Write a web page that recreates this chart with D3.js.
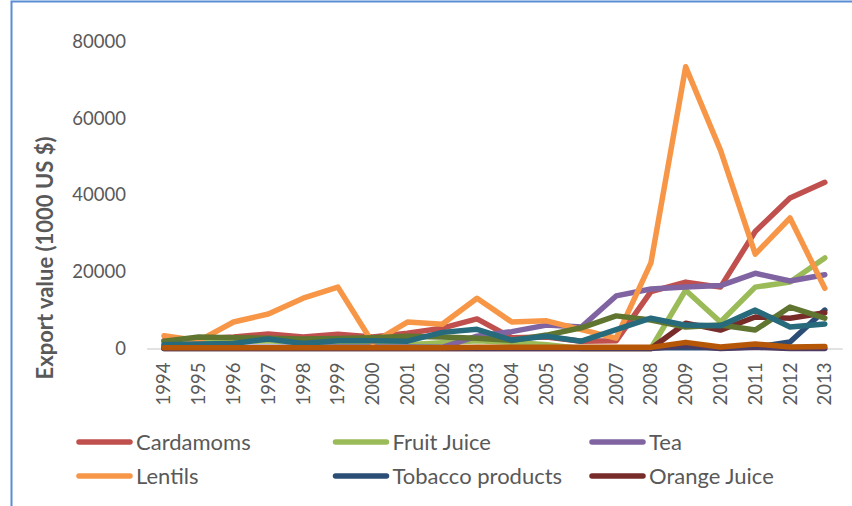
<!DOCTYPE html>
<html>
<head>
<meta charset="utf-8">
<script src="https://cdn.jsdelivr.net/npm/d3@7"></script>
<style>
  body { margin: 0; background: #fff; }
  svg { display: block; font-family: Lato, "Open Sans", sans-serif; }
</style>
</head>
<body>
<svg id="chart" width="852" height="506"></svg>
<script>
// years on the category axis
const years = [1994, 1995, 1996, 1997, 1998, 1999, 2000, 2001, 2002, 2003,
               2004, 2005, 2006, 2007, 2008, 2009, 2010, 2011, 2012, 2013];
const yTicks = [0, 20000, 40000, 60000, 80000];

// export values, 1000 US $
const cardamoms   = [2000, 2500, 3000, 3800, 3000, 3700, 3000, 4000, 5300, 7700, 2800, 3000, 1900, 2000, 14800, 17300, 16000, 30500, 39200, 43300];
const fruitJuice  = [1000, 2000, 1800, 2000, 1500, 1200, 1000, 1000, 1500, 2000, 1600, 1000, 0, 0, 0, 15200, 6900, 16000, 17300, 23600];
const tea         = [300, 300, 300, 300, 300, 400, 400, 400, 300, 3200, 4400, 6100, 5600, 13700, 15500, 16000, 16400, 19600, 17600, 19200];
const lentils     = [3300, 2000, 6900, 9000, 13100, 16000, 1500, 6900, 6300, 13100, 6900, 7200, 4900, 2700, 22300, 73400, 51700, 24600, 34000, 15700];
const tobacco     = [200, 200, 200, 200, 200, 200, 200, 200, 200, 200, 200, 200, 200, 200, 200, 200, 200, 300, 1700, 10000];
const orangeJuice = [0, 0, 0, 0, 0, 0, 0, 0, 0, 0, 0, 0, 0, 0, 0, 6600, 4800, 8200, 7900, 9300];
// series drawn in the plot whose legend entries are cut off
const seriesG     = [1900, 3000, 2800, 2700, 2500, 2600, 2800, 3200, 3000, 2700, 2100, 3500, 5400, 8500, 7400, 5600, 6100, 4800, 10800, 7900];
const seriesH     = [0, 0, 0, 0, 0, 0, 0, 0, 0, 0, 0, 0, 0, 0, 0, 800, 0, 300, 0, 0];
const seriesI     = [1000, 1200, 1300, 2500, 1300, 2000, 2000, 1900, 4200, 5000, 2200, 3200, 1900, 4900, 7900, 6100, 5900, 10000, 5600, 6400];
const seriesJ     = [200, 200, 200, 200, 200, 200, 200, 200, 200, 300, 300, 300, 300, 300, 300, 1600, 400, 1200, 400, 500];

const series = [
  { name: "Cardamoms", values: cardamoms, color: "#C0504D", legend: true },
  { name: "Fruit Juice", values: fruitJuice, color: "#9BBB59", legend: true },
  { name: "Tea", values: tea, color: "#8064A2", legend: true },
  { name: "Lentils", values: lentils, color: "#F79646", legend: true },
  { name: "Tobacco products", values: tobacco, color: "#2C4D75", legend: true },
  { name: "Orange Juice", values: orangeJuice, color: "#772C2A", legend: true },
  { name: "G", values: seriesG, color: "#5F7530", legend: false },
  { name: "H", values: seriesH, color: "#4D3B62", legend: false },
  { name: "I", values: seriesI, color: "#276A7C", legend: false },
  { name: "J", values: seriesJ, color: "#B65708", legend: false }
];

const svg = d3.select("#chart");
const textColor = "#595959";

// chart frame (only left and top edges are in view)
svg.append("path")
  .attr("d", "M11.5,506 V1.5 H852")
  .attr("fill", "none")
  .attr("stroke", "#5B8DD6")
  .attr("stroke-width", 2);

const x = d3.scaleBand().domain(years).range([146.6, 842.2]);
const y = d3.scaleLinear().domain([0, 80000]).range([348.5, 41.5]);

// y axis labels
svg.append("g")
  .attr("transform", "translate(126,0)")
  .call(d3.axisLeft(y).tickValues(yTicks).tickSize(0).tickPadding(0).tickFormat(d3.format("d")))
  .call(g => g.select(".domain").remove())
  .selectAll("text")
  .attr("fill", textColor)
  .style("font-family", "Lato")
  .style("font-size", "18.5px");

// x axis
const xAxis = svg.append("g")
  .attr("transform", "translate(0,348.5)")
  .call(d3.axisBottom(x).tickSize(0).tickPadding(0));
xAxis.select(".domain").attr("stroke", "#D9D9D9").attr("stroke-width", 1.5);
xAxis.selectAll("text")
  .attr("fill", textColor)
  .style("font-family", "Lato")
  .style("font-size", "18.5px")
  .attr("text-anchor", "end")
  .attr("transform", "rotate(-90)")
  .attr("x", -14)
  .attr("y", 0)
  .attr("dy", "0.35em");

// axis title
svg.append("text")
  .attr("transform", "translate(53,258) rotate(-90)")
  .attr("text-anchor", "middle")
  .attr("fill", textColor)
  .style("font-family", "Lato")
  .style("font-weight", "bold")
  .style("font-size", "22px")
  .text("Export value (1000 US $)");

// lines
const line = d3.line()
  .x((d, i) => x(years[i]) + x.bandwidth() / 2)
  .y(d => y(d));

svg.append("g")
  .selectAll("path")
  .data(series)
  .enter()
  .append("path")
  .attr("d", d => line(d.values))
  .attr("fill", "none")
  .attr("stroke", d => d.color)
  .attr("stroke-width", 5.5)
  .attr("stroke-linejoin", "round")
  .attr("stroke-linecap", "round");

// legend, 3 per row
const legendItems = series.filter(d => d.legend);
const leg = svg.append("g")
  .selectAll("g")
  .data(legendItems)
  .enter()
  .append("g")
  .attr("transform", (d, i) => "translate(" + (77 + (i % 3) * 256.5) + "," + (442 + Math.floor(i / 3) * 34) + ")");

leg.append("line")
  .attr("x1", 2).attr("x2", 53)
  .attr("stroke", d => d.color)
  .attr("stroke-width", 5.5)
  .attr("stroke-linecap", "round");

leg.append("text")
  .attr("x", 59)
  .attr("dy", "0.35em")
  .attr("fill", textColor)
  .style("font-size", "22px")
  .text(d => d.name);
</script>
</body>
</html>
